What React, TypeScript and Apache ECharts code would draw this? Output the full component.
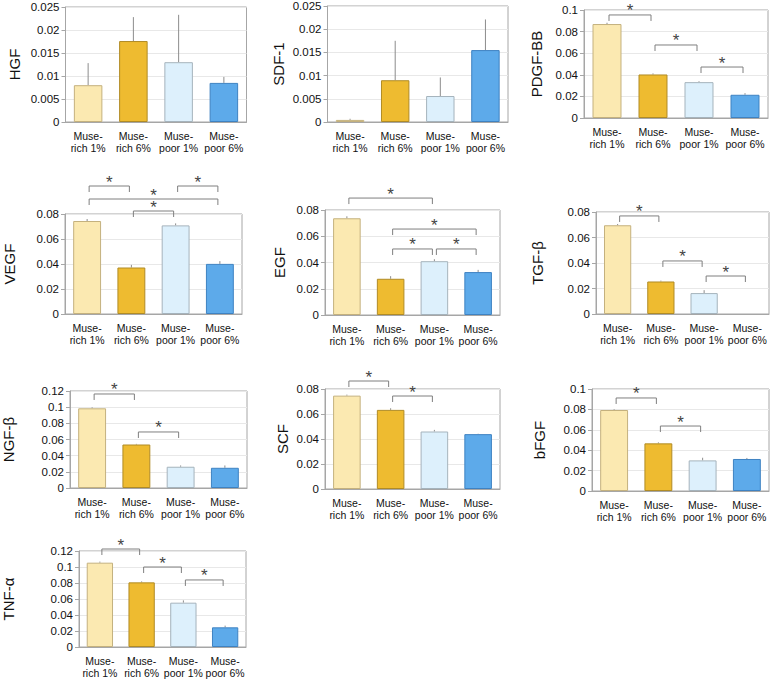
import React, { useEffect, useRef } from "react";
import * as echarts from "echarts";

const categories = ["Muse-\nrich 1%", "Muse-\nrich 6%", "Muse-\npoor 1%", "Muse-\npoor 6%"];

// values (bar heights) and upper error amounts
const hgfValues = [0.008, 0.0176, 0.013, 0.0085];
const hgfErrors = [0.0048, 0.0052, 0.0103, 0.0013];
const hgfBrackets: number[][] = [];

const sdfValues = [0.00045, 0.009, 0.0056, 0.0155];
const sdfErrors = [0.00025, 0.0085, 0.004, 0.0066];
const sdfBrackets: number[][] = [];

const pdgfValues = [0.087, 0.0403, 0.0332, 0.0215];
const pdgfErrors = [0.0012, 0.001, 0.0008, 0.0015];
const pdgfBrackets = [[0, 1, 0.0954], [1, 2, 0.0676], [2, 3, 0.0472]];

const vegfValues = [0.0744, 0.0372, 0.0709, 0.0401];
const vegfErrors = [0.0016, 0.0021, 0.0016, 0.0022];
const vegfBrackets = [[0, 1, 0.1024], [2, 3, 0.1024], [0, 3, 0.092], [1, 2, 0.0824]];

const egfValues = [0.0737, 0.0276, 0.041, 0.0327];
const egfErrors = [0.0015, 0.002, 0.0015, 0.0017];
const egfBrackets = [[0, 2, 0.0891], [1, 3, 0.0655], [1, 2, 0.0503], [2, 3, 0.0503]];

const tgfValues = [0.0696, 0.0255, 0.0164, 0];
const tgfErrors = [0.001, 0.0007, 0.0023, 0];
const tgfBrackets = [[0, 1, 0.0769], [1, 2, 0.0416], [2, 3, 0.0298]];

const ngfValues = [0.0986, 0.0538, 0.0263, 0.025];
const ngfErrors = [0.0012, 0.0008, 0.0016, 0.0029];
const ngfBrackets = [[0, 1, 0.1163], [1, 2, 0.0693]];

const scfValues = [0.0747, 0.0633, 0.046, 0.0439];
const scfErrors = [0.0008, 0.0013, 0.0013, 0.0003];
const scfBrackets = [[0, 1, 0.0864], [1, 2, 0.0744]];

const bfgfValues = [0.0794, 0.0467, 0.03, 0.0314];
const bfgfErrors = [0.0007, 0.001, 0.0026, 0.001];
const bfgfBrackets = [[0, 1, 0.0912], [1, 2, 0.0637]];

const tnfValues = [0.1054, 0.0808, 0.0554, 0.0246];
const tnfErrors = [0.0013, 0.0012, 0.0029, 0.0021];
const tnfBrackets = [[0, 1, 0.1225], [1, 2, 0.1], [2, 3, 0.0838]];

const factorNames = ["HGF", "SDF-1", "PDGF-BB", "VEGF", "EGF", "TGF-β", "NGF-β", "SCF", "bFGF", "TNF-α"];
const axisMax = [0.025, 0.025, 0.1, 0.08, 0.08, 0.08, 0.12, 0.08, 0.1, 0.12];
const axisInterval = [0.005, 0.005, 0.02, 0.02, 0.02, 0.02, 0.02, 0.02, 0.02, 0.02];
const allValues = [hgfValues, sdfValues, pdgfValues, vegfValues, egfValues, tgfValues, ngfValues, scfValues, bfgfValues, tnfValues];
const allErrors = [hgfErrors, sdfErrors, pdgfErrors, vegfErrors, egfErrors, tgfErrors, ngfErrors, scfErrors, bfgfErrors, tnfErrors];
const allBrackets = [hgfBrackets, sdfBrackets, pdgfBrackets, vegfBrackets, egfBrackets, tgfBrackets, ngfBrackets, scfBrackets, bfgfBrackets, tnfBrackets];

// layout (pixels)
const layouts = [
  { left: 65.5, top: 7, width: 181, height: 115, gap: 44 },
  { left: 327.5, top: 6, width: 180.5, height: 116, gap: 42 },
  { left: 584, top: 10, width: 184, height: 108, gap: 40 },
  { left: 65, top: 214, width: 177, height: 100, gap: 48 },
  { left: 325, top: 210, width: 175, height: 105, gap: 38 },
  { left: 596, top: 212, width: 173, height: 102, gap: 51 },
  { left: 70, top: 391, width: 177, height: 97, gap: 54 },
  { left: 325, top: 389, width: 175, height: 100, gap: 35 },
  { left: 592, top: 389, width: 177, height: 102, gap: 45 },
  { left: 77, top: 551, width: 169, height: 96, gap: 63 },
];

const fills = ["#FBE9B1", "#EEBB30", "#DDF0FC", "#5DAAEA"];
const borders = ["#C4B17E", "#B08B25", "#A5B3BC", "#3E82C2"];
const FONT = "'Liberation Sans', Arial, sans-serif";

export default function App() {
  const ref = useRef<HTMLDivElement>(null);
  useEffect(() => {
    if (!ref.current) return;
    const chart = echarts.init(ref.current, undefined, { renderer: "svg" });
    const grids: any[] = [];
    const xAxes: any[] = [];
    const yAxes: any[] = [];
    const series: any[] = [];
    factorNames.forEach((name, i) => {
      const L = layouts[i];
      grids.push({
        left: L.left, top: L.top, width: L.width, height: L.height,
        show: true, borderColor: "#A6A6A6", borderWidth: 1, backgroundColor: "transparent",
      });
      xAxes.push({
        type: "category", gridIndex: i, data: categories,
        axisTick: { show: false },
        axisLine: { lineStyle: { color: "#A6A6A6" } },
        axisLabel: { interval: 0, fontSize: 10.5, lineHeight: 12, margin: 8, color: "#111", fontFamily: FONT },
      });
      yAxes.push({
        type: "value", gridIndex: i, min: 0, max: axisMax[i], interval: axisInterval[i],
        name, nameLocation: "middle", nameRotate: 90, nameGap: L.gap,
        nameTextStyle: { fontSize: 15, color: "#111", fontFamily: FONT },
        axisLine: { show: true, lineStyle: { color: "#A6A6A6" } },
        axisTick: { show: true, length: 4, lineStyle: { color: "#A6A6A6" } },
        splitLine: { lineStyle: { color: "#E8E8E8" } },
        axisLabel: {
          fontSize: 11.5, color: "#111", margin: 6, fontFamily: FONT,
          formatter: (v: number) => String(parseFloat(v.toFixed(4))),
        },
      });
      const vals = allValues[i];
      const errs = allErrors[i];
      series.push({
        type: "bar", xAxisIndex: i, yAxisIndex: i, barCategoryGap: "37%",
        data: vals.map((v, k) => ({
          value: v,
          itemStyle: { color: fills[k], borderColor: borders[k], borderWidth: v > 0 ? 1 : 0 },
        })),
      });
      series.push({
        type: "custom", xAxisIndex: i, yAxisIndex: i,
        encode: { x: 0, y: [1, 2] },
        data: vals.map((v, k) => [k, v, v + errs[k]]),
        renderItem: (_p: any, api: any) => {
          const a = api.coord([api.value(0), api.value(1)]);
          const b = api.coord([api.value(0), api.value(2)]);
          return {
            type: "line",
            shape: { x1: a[0], y1: a[1], x2: b[0], y2: b[1] },
            style: { stroke: "#8C8C8C", lineWidth: 1 },
          };
        },
      });
      const br = allBrackets[i];
      if (br.length) {
        series.push({
          type: "custom", xAxisIndex: i, yAxisIndex: i, clip: false,
          encode: { x: [0, 1], y: 2 },
          data: br,
          renderItem: (_p: any, api: any) => {
            const a = api.coord([api.value(0), api.value(2)]);
            const b = api.coord([api.value(1), api.value(2)]);
            const x1 = a[0] + 2;
            const x2 = b[0] - 2;
            const y = a[1];
            return {
              type: "group",
              children: [
                {
                  type: "polyline",
                  shape: { points: [[x1, y + 6], [x1, y], [x2, y], [x2, y + 6]] },
                  style: { stroke: "#7F7F7F", lineWidth: 1, fill: null },
                },
                {
                  type: "text",
                  x: (x1 + x2) / 2,
                  y: y - 4,
                  style: {
                    text: "*", fontSize: 17, lineHeight: 9, fill: "#444",
                    align: "center", verticalAlign: "middle", fontFamily: FONT,
                  },
                },
              ],
            };
          },
        });
      }
    });
    chart.setOption({
      animation: false,
      backgroundColor: "#ffffff",
      grid: grids,
      xAxis: xAxes,
      yAxis: yAxes,
      series,
    });
    return () => chart.dispose();
  }, []);
  return <div ref={ref} style={{ position: "absolute", left: 0, top: 0, width: 772, height: 680 }} />;
}
